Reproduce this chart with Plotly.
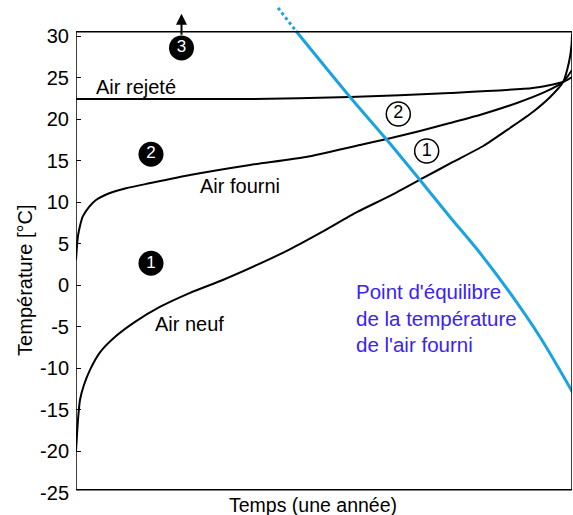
import plotly.graph_objects as go

# ---- data (x = fraction of the year, y = temperature in °C) ----
air_neuf_x = [0.0, 0.004, 0.008, 0.016, 0.028, 0.048, 0.079, 0.119, 0.169, 0.230, 0.296, 0.365,
              0.431, 0.498, 0.567, 0.633, 0.700, 0.760, 0.821, 0.875, 0.921, 0.956, 0.982,
              0.994, 0.999, 1.0]
air_neuf_y = [-20.0, -16.2, -13.8, -12.0, -10.2, -8.1, -6.2, -4.4, -2.6, -0.9, 0.65, 2.46,
              4.34, 6.50, 8.84, 10.77, 12.93, 14.86, 16.78, 18.95, 20.88, 22.68, 24.49,
              26.9, 28.9, 30.2]

air_fourni_x = [0.0, 0.002, 0.004, 0.008, 0.0135, 0.0268, 0.0403, 0.0671, 0.1008, 0.1478,
                0.2298, 0.3508, 0.4637, 0.5726, 0.627, 0.6935, 0.754, 0.8206, 0.889, 0.9456,
                0.982, 1.0]
air_fourni_y = [3.06, 4.74, 5.95, 7.15, 8.27, 9.48, 10.28, 11.09, 11.69, 12.29,
                13.29, 14.50, 15.46, 16.91, 17.63, 18.59, 19.55, 20.64, 21.96, 23.29,
                24.49, 25.93]

air_rejete_x = [0.0, 0.351, 0.552, 0.754, 0.921, 0.982, 1.0]
air_rejete_y = [22.43, 22.43, 22.68, 23.17, 23.77, 24.49, 25.09]

equilibre_x = [0.4073, 0.4435, 0.5524, 0.6270, 0.6935, 0.7540, 0.8145, 0.8750, 0.9355, 1.002]
equilibre_y = [33.41, 30.63, 22.69, 17.51, 12.69, 8.24, 3.90, -0.91, -6.21, -12.95]

tick_values = [30, 25, 20, 15, 10, 5, 0, -5, -10, -15, -20, -25]
tick_labels = ["30", "25", "20", "15", "10", "5", "0", "-5", "-10", "-15", "-20", "-25"]

zone_labels = ["3", "2", "1"]
zone_x = [0.2127, 0.1512, 0.1512]
zone_y = [28.59, 15.79, 2.66]

cross_labels = ["2", "1"]
cross_x = [0.6498, 0.7070]
cross_y = [20.64, 16.18]

FONT = "Arial, Liberation Sans, sans-serif"
BLUE = "#1aa3de"

fig = go.Figure()

for xs, ys in [(air_neuf_x, air_neuf_y), (air_fourni_x, air_fourni_y), (air_rejete_x, air_rejete_y)]:
    fig.add_trace(go.Scatter(x=xs, y=ys, mode="lines",
                             line=dict(color="black", width=2, shape="spline", smoothing=0.6),
                             hoverinfo="skip", showlegend=False))

# dotted extension of the equilibrium line
fig.add_trace(go.Scatter(x=equilibre_x[:2], y=equilibre_y[:2], mode="lines",
                         line=dict(color=BLUE, width=3, dash="dot"),
                         showlegend=False, hoverinfo="skip"))
fig.add_trace(go.Scatter(x=equilibre_x[1:], y=equilibre_y[1:], mode="lines",
                         line=dict(color=BLUE, width=3, shape="spline", smoothing=0.8),
                         showlegend=False, hoverinfo="skip"))

# filled zone markers
fig.add_trace(go.Scatter(x=zone_x, y=zone_y, mode="markers+text", text=zone_labels,
                         textposition="middle center",
                         textfont=dict(family=FONT, size=17, color="white"),
                         marker=dict(size=25, color="black"),
                         showlegend=False, hoverinfo="skip", cliponaxis=False))
# circled crossing markers
fig.add_trace(go.Scatter(x=cross_x, y=cross_y, mode="markers+text", text=cross_labels,
                         textposition="middle center",
                         textfont=dict(family=FONT, size=18, color="black"),
                         marker=dict(size=24, color="white", line=dict(color="black", width=1.5)),
                         showlegend=False, hoverinfo="skip", cliponaxis=False))

# frame
fig.add_shape(type="rect", xref="x", yref="y", x0=0, x1=1, y0=-24.6, y1=30.55,
              line=dict(color="black", width=1.5), layer="above")

# arrow above zone 3
fig.add_annotation(x=zone_x[0], y=32.7, ax=zone_x[0], ay=30.0, xref="x", yref="y",
                   axref="x", ayref="y", showarrow=True, arrowhead=2, arrowsize=1.1,
                   arrowwidth=2, arrowcolor="black", text="", standoff=0)

ann_font = dict(family=FONT, size=20, color="black")
fig.add_annotation(x=0.121, y=23.89, text="Air rejeté", showarrow=False, font=ann_font)
fig.add_annotation(x=0.3306, y=11.97, text="Air fourni", showarrow=False, font=ann_font)
fig.add_annotation(x=0.2298, y=-4.65, text="Air neuf", showarrow=False, font=ann_font)
fig.add_annotation(x=0.561, y=-3.93, xanchor="left", align="left",
                   text="Point d'équilibre<br>de la température<br>de l'air fourni",
                   showarrow=False, font=dict(family=FONT, size=20.5, color="#3b22f6"))

fig.add_annotation(xref="paper", yref="paper", x=0.478, y=-0.0245, xanchor="center",
                   yanchor="middle", text="Temps (une année)", showarrow=False,
                   font=dict(family=FONT, size=19.5, color="black"))
fig.add_annotation(xref="paper", yref="y", x=-0.103, y=0.65, textangle=-90,
                   xanchor="center", yanchor="middle",
                   text="Température [°C]", showarrow=False,
                   font=dict(family=FONT, size=20, color="black"))

fig.update_layout(
    width=573, height=515,
    margin=dict(l=76, r=1, t=3, b=22),
    paper_bgcolor="white", plot_bgcolor="white",
    showlegend=False,
    xaxis=dict(range=[0, 1], showgrid=False, zeroline=False, showline=False,
               showticklabels=False, ticks=""),
    yaxis=dict(range=[-25, 34], showgrid=False, zeroline=False, showline=False,
               tickvals=tick_values, ticktext=tick_labels, ticks="inside", ticklen=5,
               tickcolor="black", tickwidth=1, ticklabelstandoff=6,
               tickfont=dict(family=FONT, size=20, color="black")),
)

fig.write_html("out.html", config={"displayModeBar": False},
               post_script="document.body.style.margin='0';document.body.style.overflow='hidden';")
